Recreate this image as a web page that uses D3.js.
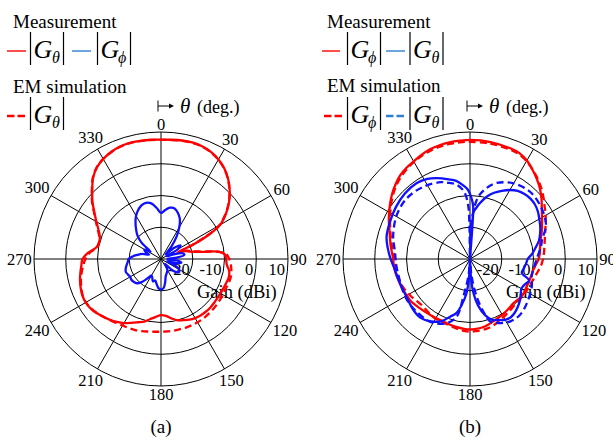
<!DOCTYPE html>
<html>
<head>
<meta charset="utf-8">
<script src="https://cdn.jsdelivr.net/npm/d3@7"></script>
<style>
body { margin: 0; background: #fff; }
svg text { font-family: "Liberation Serif", "DejaVu Serif", serif; fill: #000; }
</style>
</head>
<body>
<svg id="chart" width="613" height="443" font-family="Liberation Serif, DejaVu Serif, serif"></svg>
<script>
// gain rings (dBi) and angle ticks (deg)
var ringVals = [-20, -10, 0, 10];
var angleTicks = [0, 30, 60, 90, 120, 150, 180, 210, 240, 270, 300, 330];

// (a) |G_theta| measured, |G_theta| EM simulation, |G_phi| measured : [deg, dBi]
var gThetaMeasA = [[0,7.6],[5,7.7],[10,7.9],[15,8.0],[20,7.8],[25,7.2],[30,6.2],[35,4.8],[40,2.9],[45,0.6],[50,-2.0],[55,-5.0],[60,-8.5],[63,-13],[66,-19],[69,-24.5],[72,-22],[76,-20.5],[80,-17],[83,-11.5],[86,-9.8],[90,-9.5],[95,-9.2],[100,-8.2],[105,-7.9],[110,-8.1],[115,-8.3],[120,-8.4],[125,-8.4],[130,-8.3],[135,-8.2],[140,-8.2],[145,-8.3],[150,-8.5],[155,-8.9],[160,-9.5],[165,-10.0],[170,-11.0],[175,-12.0],[180,-12.3],[185,-11.7],[190,-10.8],[195,-9.6],[200,-8.8],[205,-7.8],[210,-6.7],[215,-5.8],[220,-5.0],[225,-4.3],[230,-3.5],[235,-2.9],[240,-2.6],[245,-2.7],[250,-3.1],[255,-3.6],[260,-4.2],[265,-4.8],[270,-5.3],[275,-7.0],[280,-9.3],[285,-9.8],[290,-9.5],[295,-8.3],[300,-6.5],[305,-4.4],[310,-1.8],[315,0.6],[320,3.3],[325,5.2],[330,6.4],[335,7.2],[340,7.7],[345,7.9],[350,7.8],[355,7.7]];
var gThetaSimA = [[0,7.5],[5,7.6],[10,7.8],[15,7.9],[20,7.7],[25,7.1],[30,6.1],[35,4.7],[40,2.8],[45,0.5],[50,-2.1],[55,-5.2],[60,-8.8],[63,-13.5],[66,-19.5],[69,-24],[72,-21.5],[76,-20],[80,-16.5],[83,-11.5],[86,-9.3],[90,-8.5],[95,-7.9],[100,-7.5],[105,-7.3],[110,-7.4],[115,-7.6],[120,-7.5],[125,-7.4],[130,-7.3],[135,-7.2],[140,-7.1],[145,-7.0],[150,-7.0],[155,-7.0],[160,-7.0],[165,-7.1],[170,-7.1],[175,-7.1],[180,-7.1],[185,-7.0],[190,-6.8],[195,-6.5],[200,-6.2],[205,-6.0],[210,-5.8],[215,-5.4],[220,-4.9],[225,-4.3],[230,-3.6],[235,-3.0],[240,-2.7],[245,-2.8],[250,-3.3],[255,-3.9],[260,-4.6],[265,-5.4],[270,-6.2],[275,-7.5],[280,-9.5],[285,-9.8],[290,-9.3],[295,-8.0],[300,-6.3],[305,-4.2],[310,-1.6],[315,0.8],[320,3.4],[325,5.3],[330,6.4],[335,7.1],[340,7.6],[345,7.8],[350,7.7],[355,7.6]];
var gPhiMeasA = [[0,-15.5],[5,-14.5],[10,-13.6],[15,-13.5],[20,-14.5],[25,-16.0],[30,-18.5],[35,-21.5],[40,-25],[45,-28],[50,-24.5],[55,-22.5],[60,-24],[65,-28],[70,-26],[75,-23],[80,-22.5],[85,-25],[90,-28],[95,-25],[100,-23.5],[105,-25],[110,-28],[115,-25],[120,-23.5],[125,-23],[130,-23.5],[135,-25],[140,-28],[145,-27],[150,-26],[155,-25.5],[160,-25],[165,-24.3],[170,-22.5],[175,-20.8],[180,-20.4],[185,-20.8],[190,-22],[195,-23],[200,-22.5],[205,-23.5],[210,-24],[215,-22.5],[220,-20.5],[225,-19.2],[230,-18.8],[235,-18.6],[240,-18.8],[245,-18.5],[250,-18.2],[255,-18.5],[260,-19],[265,-19.5],[270,-19.8],[275,-21],[280,-22.5],[285,-23.8],[290,-26],[295,-24.5],[300,-24],[305,-26],[310,-22],[315,-19.5],[320,-17.8],[325,-16.0],[330,-14.3],[335,-13.0],[340,-12.0],[345,-11.7],[350,-12.2],[355,-13.8]];

// (b) |G_phi| measured / simulated, |G_theta| measured / simulated : [deg, dBi]
var gPhiMeasB = [[0,7.5],[10,7.4],[20,7.1],[25,6.8],[30,5.8],[35,4.3],[40,2.8],[45,1.2],[50,-0.6],[55,-2.4],[60,-3.8],[65,-5.0],[70,-6.0],[75,-7.0],[80,-7.6],[85,-7.9],[90,-8.4],[95,-9.2],[100,-9.8],[105,-10.0],[110,-10.1],[115,-10.2],[120,-10.0],[125,-9.9],[130,-10.2],[135,-10.5],[140,-10.3],[145,-10.0],[150,-9.7],[155,-9.4],[160,-9.0],[165,-8.5],[170,-8.1],[175,-7.9],[180,-7.8],[185,-7.9],[190,-8.1],[195,-8.3],[200,-8.5],[205,-8.6],[210,-8.5],[215,-8.4],[220,-8.2],[225,-7.9],[230,-7.5],[235,-7.1],[240,-7.0],[245,-6.8],[250,-6.6],[255,-6.4],[260,-6.1],[265,-5.9],[270,-5.8],[275,-5.3],[280,-4.6],[285,-3.9],[290,-3.0],[295,-1.8],[300,-0.6],[305,0.7],[310,2.0],[315,3.2],[320,4.3],[325,5.0],[330,5.5],[335,6.2],[340,6.8],[345,7.1],[350,7.3],[355,7.4]];
var gPhiSimB = [[0,6.9],[10,6.9],[20,6.7],[25,6.4],[30,5.6],[35,4.4],[40,3.1],[45,1.7],[50,0.2],[55,-1.3],[60,-2.5],[65,-3.7],[70,-4.8],[75,-5.6],[80,-6.2],[85,-6.6],[90,-7.0],[95,-7.5],[100,-8.2],[105,-8.8],[110,-9.2],[115,-9.5],[120,-9.6],[125,-9.7],[130,-9.8],[135,-9.8],[140,-9.6],[145,-9.3],[150,-8.9],[155,-8.4],[160,-7.9],[165,-7.5],[170,-7.3],[175,-7.2],[180,-7.1],[185,-7.3],[190,-7.6],[195,-8.0],[200,-8.2],[205,-8.3],[210,-8.3],[215,-8.5],[220,-8.8],[225,-9.0],[230,-8.8],[235,-8.3],[240,-7.8],[245,-7.3],[250,-6.9],[255,-6.7],[260,-6.6],[265,-6.5],[270,-6.3],[275,-5.8],[280,-5.0],[285,-4.2],[290,-3.3],[295,-2.2],[300,-1.0],[305,0.3],[310,1.6],[315,2.8],[320,3.8],[325,4.6],[330,5.3],[335,5.9],[340,6.3],[345,6.6],[350,6.8],[355,6.9]];
var gThetaMeasB = [[0,-9.5],[2,-11.5],[3.5,-13.5],[4,-30],[4.5,-15],[6,-14.3],[10,-12.2],[15,-9.7],[20,-7.8],[25,-6.3],[30,-4.9],[35,-3.8],[40,-3.3],[45,-3.1],[50,-3.3],[55,-3.9],[60,-4.8],[65,-5.6],[70,-6.5],[75,-7.5],[80,-9.0],[85,-10.3],[90,-11.8],[95,-12.3],[100,-12.8],[105,-13.1],[110,-10.2],[115,-11.0],[120,-11.3],[125,-10.5],[130,-9.5],[135,-8.7],[140,-8.0],[145,-7.6],[150,-7.9],[155,-8.8],[160,-9.6],[165,-11.7],[170,-15],[174,-19],[177,-24],[180,-30],[183,-24],[186,-19],[190,-15.5],[194,-12.5],[199,-10.8],[205,-8.3],[212,-6.8],[220,-5.8],[228,-6.0],[235,-6.5],[245,-6.8],[255,-6.5],[262,-6.1],[270,-5.0],[278,-3.8],[285,-2.8],[295,-2.2],[305,-1.5],[315,-0.9],[325,-0.8],[332,-1.4],[338,-2.5],[345,-4.0],[350,-5.0],[355,-6.8],[358,-8.0]];
var gThetaSimB = [[0,-30],[1.5,-20],[4,-15],[7.6,-10.2],[13,-7.1],[19,-4.7],[30,-2.5],[42,-1.6],[55,-2.4],[66,-3.8],[75,-6.5],[80,-7.3],[90,-9.0],[100,-9.8],[106,-9.8],[114,-8.7],[128,-7.3],[138,-6.4],[147,-6.6],[156,-7.9],[162,-9.3],[165,-12],[170,-18],[175,-25],[180,-30],[185,-25],[190,-18],[193,-11.4],[200,-8.5],[212,-6.6],[225,-6.4],[235,-6.3],[245,-6.6],[255,-6.9],[265,-6.7],[275,-6.3],[287,-4.7],[301,-3.1],[314,-2.4],[327,-2.9],[339,-4.1],[345,-5.2],[350,-6.3],[355,-8.7],[358,-13],[359,-19]];

var RED = "#ff0000", BLUE = "#1010ff", LEG_BLUE = "#2f80d2";
var FONT = "'Liberation Serif', 'DejaVu Serif', serif";

var svg = d3.select("#chart").style("font-family", FONT);
var R = 127;
var rScale = d3.scaleLinear().domain([-30, 10]).range([0, R]).clamp(true);
var rad = function(d) { return d * Math.PI / 180; };

var line = d3.lineRadial()
  .angle(function(d) { return rad(d[0]); })
  .radius(function(d) { return rScale(d[1]); })
  .curve(d3.curveCatmullRomClosed.alpha(0.5));

function txt(parent, x, y, size, s) {
  return parent.append("text").attr("x", x).attr("y", y)
    .style("font-family", FONT).style("font-size", size + "px").text(s);
}

function labelR(d) {
  var w = String(d).length * 8.5;
  return 129 + 6 * Math.abs(Math.cos(rad(d))) + w / 2 * Math.abs(Math.sin(rad(d)));
}

function drawPolar(cx, cy, series, caption) {
  var g = svg.append("g").attr("transform", "translate(" + cx + "," + cy + ")");

  // grid
  g.selectAll(".ring").data(ringVals).enter().append("circle")
    .attr("r", function(d) { return rScale(d); })
    .attr("fill", "none").attr("stroke", "#000").attr("stroke-width", 1);
  g.selectAll(".spoke").data(angleTicks).enter().append("line")
    .attr("x1", 0).attr("y1", 0)
    .attr("x2", function(d) { return R * Math.sin(rad(d)); })
    .attr("y2", function(d) { return -R * Math.cos(rad(d)); })
    .attr("stroke", "#000").attr("stroke-width", 1);

  // angle labels, pushed out by half the text box
  g.selectAll(".alab").data(angleTicks).enter().append("text")
    .attr("text-anchor", "middle")
    .style("font-family", FONT).style("font-size", "16.5px")
    .attr("x", function(d) { return labelR(d) * Math.sin(rad(d)); })
    .attr("y", function(d) { return -labelR(d) * Math.cos(rad(d)) + 5.5; })
    .text(function(d) { return d; });

  // gain labels
  g.selectAll(".rlab").data(ringVals).enter().append("text")
    .attr("text-anchor", "end")
    .style("font-family", FONT).style("font-size", "16.5px")
    .attr("x", function(d) { return rScale(d) - 3; })
    .attr("y", 16)
    .text(function(d) { return d; });
  txt(g, 36, 39, 18.5, "Gain (dBi)");

  // pattern curves
  series.forEach(function(s) {
    g.append("path").datum(s.data)
      .attr("d", line)
      .attr("fill", "none")
      .attr("stroke", s.color)
      .attr("stroke-width", 2.3)
      .attr("stroke-dasharray", s.dash ? "7,4" : null);
  });

  txt(svg, cx, 433, 19, caption).attr("text-anchor", "middle");

  // theta direction marker
  var m = svg.append("g").attr("transform", "translate(" + (cx - 3) + ",106)");
  m.append("line").attr("x1", 0).attr("x2", 0).attr("y1", -5.5).attr("y2", 5.5).attr("stroke", "#000").attr("stroke-width", 1);
  m.append("line").attr("x1", 0).attr("x2", 12).attr("y1", 0).attr("y2", 0).attr("stroke", "#000").attr("stroke-width", 1);
  m.append("path").attr("d", "M11,-2.5L16,0L11,2.5Z").attr("fill", "#000");
  txt(m, 22, 7, 21, "θ").style("font-style", "italic");
  txt(m, 39, 6.5, 18, "(deg.)");
}

// |G_sub| symbol with bars
function absG(x, yc, sub) {
  var g = svg.append("g");
  [x, x + 33].forEach(function(bx) {
    g.append("line").attr("x1", bx).attr("x2", bx).attr("y1", yc - 16.5).attr("y2", yc + 16.5)
      .attr("stroke", "#000").attr("stroke-width", 1.2);
  });
  txt(g, x + 3, yc + 9.5, 26, "G").style("font-style", "italic");
  txt(g, x + (sub === "θ" ? 21.5 : 20.5), yc + 14.5, 16, sub).style("font-style", "italic");
}

function legLine(x1, x2, y, color, dash, w) {
  svg.append("line").attr("x1", x1).attr("x2", x2).attr("y1", y).attr("y2", y)
    .attr("stroke", color).attr("stroke-width", w)
    .attr("stroke-dasharray", dash ? "7.5,3" : null);
}

// (a)
drawPolar(161, 259, [
  { data: gThetaMeasA, color: RED, dash: false },
  { data: gThetaSimA, color: RED, dash: true },
  { data: gPhiMeasA, color: BLUE, dash: false }
], "(a)");
txt(svg, 13, 28, 19, "Measurement");
txt(svg, 13, 92.5, 19, "EM simulation");
legLine(7, 26, 51, RED, false, 1.4);
absG(30.5, 48.5, "θ");
legLine(72, 91, 51, LEG_BLUE, false, 1.4);
absG(97.5, 48.5, "ϕ");
legLine(7, 26, 116, RED, true, 2.6);
absG(30.5, 113.5, "θ");

// (b)
drawPolar(470, 259, [
  { data: gPhiMeasB, color: RED, dash: false },
  { data: gPhiSimB, color: RED, dash: true },
  { data: gThetaMeasB, color: BLUE, dash: false },
  { data: gThetaSimB, color: BLUE, dash: true }
], "(b)");
txt(svg, 327, 28, 19, "Measurement");
txt(svg, 327, 91.5, 19, "EM simulation");
legLine(322, 340, 51, RED, false, 1.4);
absG(347.5, 48.5, "ϕ");
legLine(386, 405, 51, LEG_BLUE, false, 1.4);
absG(410, 48.5, "θ");
legLine(324, 343, 116, RED, true, 2.6);
absG(347.5, 113.5, "ϕ");
legLine(386, 406, 116, LEG_BLUE, true, 2.6);
absG(410, 113.5, "θ");
</script>
</body>
</html>
